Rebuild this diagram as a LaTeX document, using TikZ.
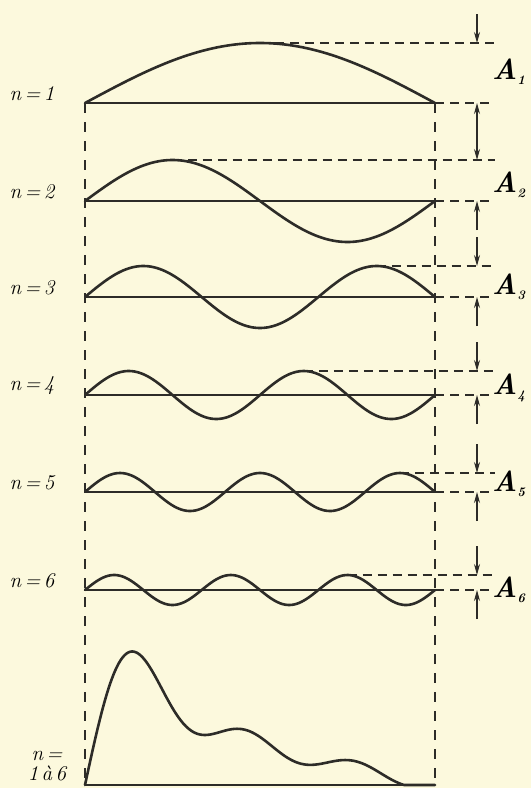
\documentclass[tikz,border=0pt]{standalone}
\usepackage{fontspec}
\usetikzlibrary{arrows.meta}
\definecolor{paper}{RGB}{252,249,221}
\definecolor{ink}{RGB}{45,44,40}
\begin{document}
\begin{tikzpicture}[x=1pt,y=-1pt,
  wave/.style={ink,line width=2.6pt,line cap=round,line join=round},
  axis/.style={ink,line width=1.2pt},
  guide/.style={ink,line width=1.4pt,dash pattern=on 9pt off 6pt},
  vguide/.style={ink,line width=1.4pt,dash pattern=on 10pt off 9pt},
  dim/.style={ink,line width=1.2pt,-{Stealth[length=11pt,width=6pt]}},
  nlab/.style={font=\fontsize{21}{23}\selectfont\itshape,inner sep=0pt},
  alab/.style={font=\fontsize{29}{30}\selectfont\bfseries\itshape,inner sep=0pt,anchor=west}]
\useasboundingbox (0,0) rectangle (531,788);
\fill[paper] (0,0) rectangle (531,788);
% rows
\foreach \n/\b/\a/\pk/\ay in {1/103/60/0.5/72, 2/201/41/0.25/185, 3/297/31/0.8333/287, 4/395/24/0.625/388, 5/492/19/0.9/484, 6/590/15/0.75/590}{
  \pgfmathsetmacro{\t}{\b-\a}
  \pgfmathsetmacro{\px}{85+350*\pk}
  \pgfmathsetmacro{\k}{\n*180/350}
  \coordinate (L\n) at (85,\b);
  \coordinate (R\n) at (435,\b);
  \coordinate (P\n) at (\px,\t);
  \coordinate (D\n) at (495,\t);
  \coordinate (E\n) at (490,\b);
  \coordinate (T\n) at (477,\t);
  \coordinate (Ts\n) at (477,\t-29);
  \coordinate (B\n) at (477,\b);
  \coordinate (Bs\n) at (477,\b+29);
  \draw[axis] (L\n) -- (R\n);
  \draw[wave] plot[domain=0:350,samples=150,smooth] ({85+\x},{\b-\a*sin(\k*\x)});
  \draw[guide] (P\n) -- (D\n);
  \draw[guide] (R\n) -- (E\n);
  \draw[dim] (Ts\n) -- (T\n);
  \draw[dim] (Bs\n) -- (B\n);
  \node[nlab] (n\n) at (32,\b-9) {n\,=\,\n};
  \node[alab] (A\n) at (492,\ay) {A\raisebox{-5pt}{\fontsize{13}{13}\selectfont\n}};
}
% sum row
\coordinate (Lb) at (85,785);
\coordinate (Rb) at (435,785);
\draw[axis] (Lb) -- (Rb);
\draw[wave] plot[domain=0:350,samples=250,smooth] ({85+\x},{785-max(0,60*sin(\x/350*180)+41*sin(\x/350*360)+31*sin(\x/350*540)+24*sin(\x/350*720)+19*sin(\x/350*900)+15*sin(\x/350*1080))});
\draw[vguide] (L1) -- (Lb);
\draw[vguide] (R1) -- (Rb);
\node[nlab,align=center] (nsum) at (47,766) {n\,=\\[-3pt]1\,à\,6};
\end{tikzpicture}
\end{document}
